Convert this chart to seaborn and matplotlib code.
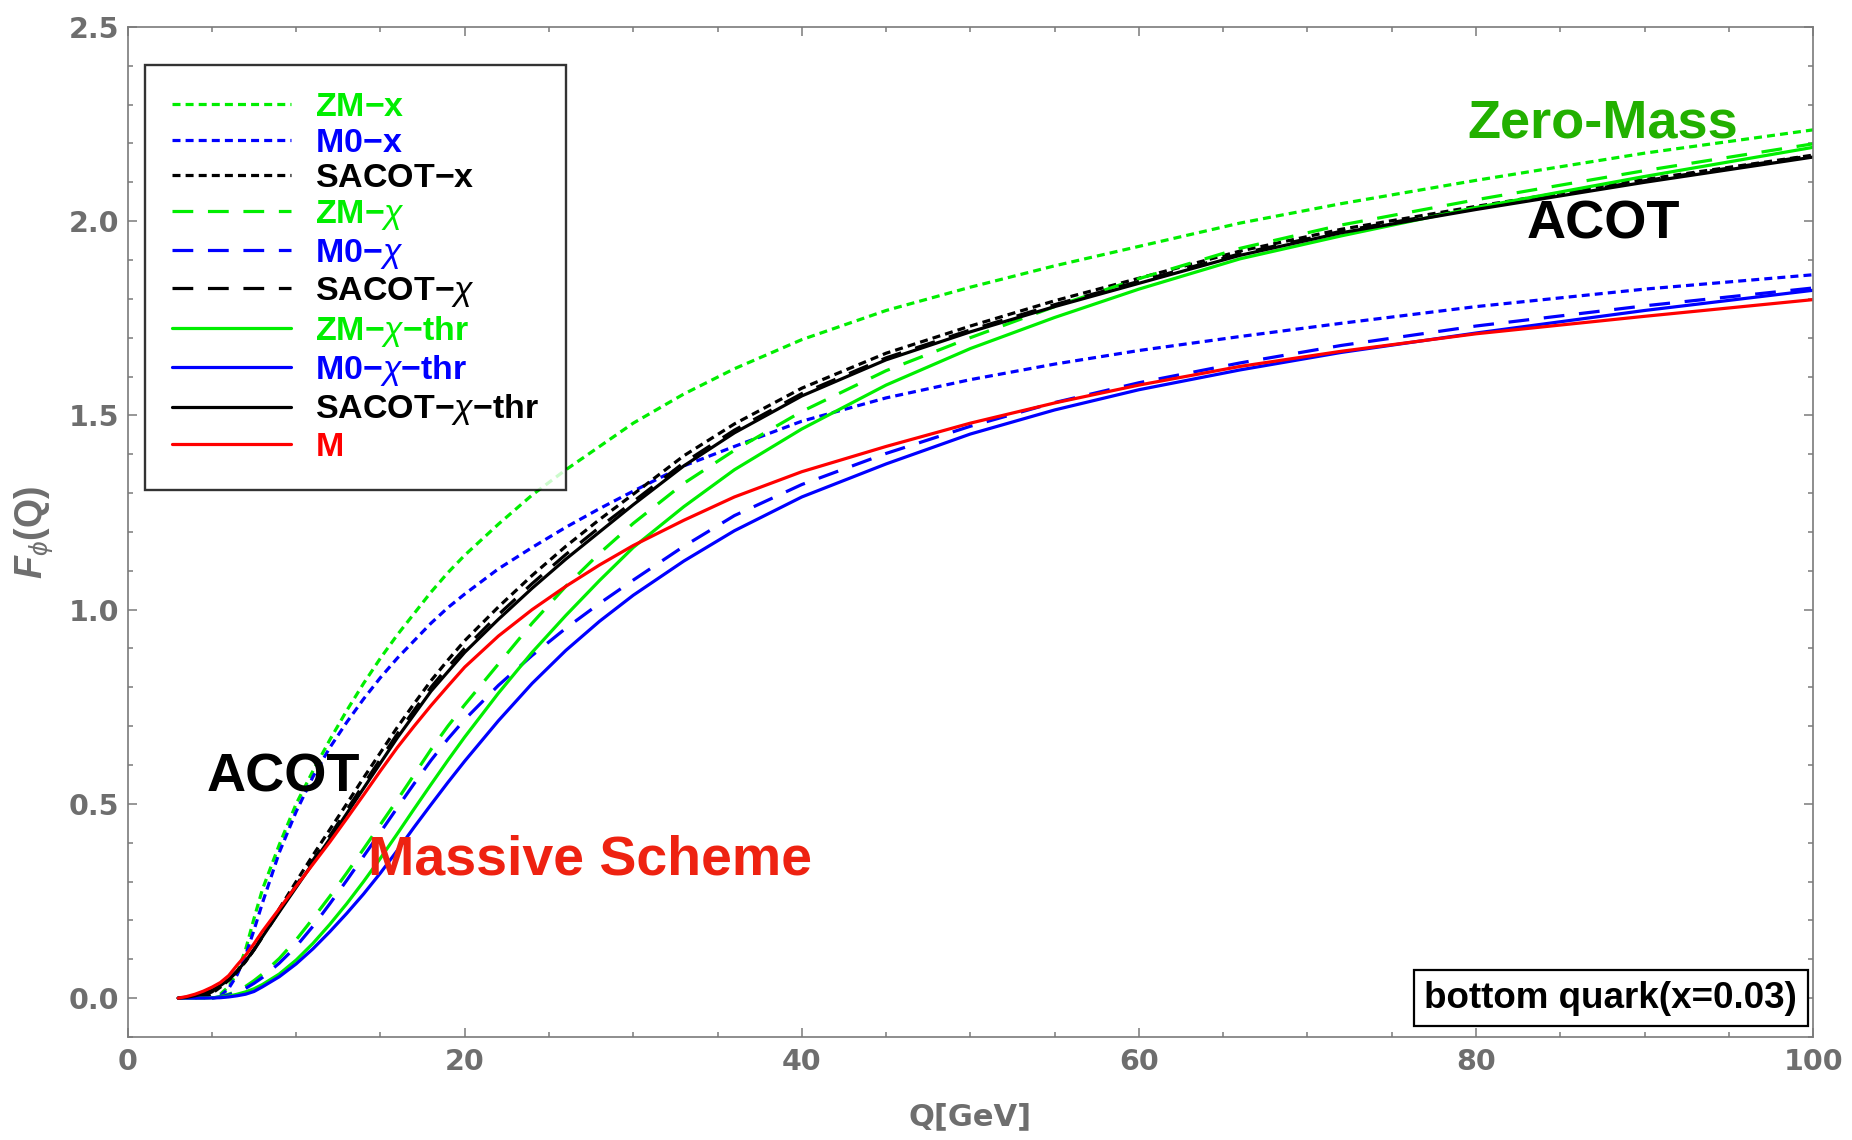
import numpy as np
import matplotlib
matplotlib.use("Agg")
import matplotlib.pyplot as plt
from matplotlib.ticker import MultipleLocator, FormatStrFormatter
import seaborn as sns

nan = np.nan

# Q grid in GeV
Q = [3, 3.5, 4, 4.5, 5, 5.5, 6, 6.5, 7, 7.5, 8, 9, 10, 11, 12, 13, 14, 15, 16, 17,
     18, 19, 20, 22, 24, 26, 28, 30, 33, 36, 40, 45, 50, 55, 60, 66, 72, 80, 90, 100]

# structure function F_phi(Q) for the bottom quark, x = 0.03
zm_x = [nan, nan, nan, nan, nan, 0.01, 0.03, 0.065, 0.125, 0.205, 0.28, 0.395, 0.5, 0.585, 0.665, 0.74,
        0.81, 0.875, 0.935, 0.99, 1.045, 1.095, 1.14, 1.22, 1.295, 1.36, 1.42, 1.48, 1.555, 1.62,
        1.695, 1.77, 1.83, 1.885, 1.935, 1.995, 2.045, 2.105, 2.175, 2.235]
m0_x = [nan, nan, nan, nan, nan, 0.005, 0.025, 0.06, 0.11, 0.175, 0.245, 0.375, 0.48, 0.57, 0.645, 0.71,
        0.77, 0.825, 0.875, 0.92, 0.965, 1.005, 1.04, 1.105, 1.16, 1.212, 1.26, 1.305, 1.37, 1.42,
        1.485, 1.545, 1.592, 1.632, 1.667, 1.703, 1.737, 1.78, 1.825, 1.862]
sacot_x = [nan, nan, nan, 0.0, 0.012, 0.028, 0.046, 0.068, 0.094, 0.125, 0.16, 0.23, 0.3, 0.368, 0.434, 0.5,
           0.567, 0.632, 0.697, 0.758, 0.817, 0.87, 0.92, 1.007, 1.088, 1.163, 1.232, 1.297, 1.396, 1.478,
           1.57, 1.66, 1.73, 1.795, 1.853, 1.923, 1.979, 2.038, 2.107, 2.17]
zm_chi = [nan, nan, nan, nan, 0.0, 0.004, 0.01, 0.018, 0.03, 0.045, 0.062, 0.102, 0.15, 0.205, 0.262, 0.322,
          0.384, 0.447, 0.51, 0.575, 0.64, 0.70, 0.755, 0.86, 0.965, 1.06, 1.145, 1.222, 1.325, 1.41,
          1.51, 1.615, 1.70, 1.78, 1.852, 1.93, 1.99, 2.055, 2.13, 2.199]
m0_chi = [nan, nan, nan, nan, 0.0, 0.003, 0.008, 0.015, 0.025, 0.038, 0.053, 0.09, 0.133, 0.185, 0.243, 0.303,
          0.365, 0.427, 0.49, 0.552, 0.612, 0.667, 0.717, 0.805, 0.882, 0.952, 1.016, 1.076, 1.163, 1.242,
          1.322, 1.402, 1.472, 1.533, 1.584, 1.635, 1.68, 1.73, 1.782, 1.828]
sacot_chi = [nan, nan, 0.0, 0.006, 0.016, 0.03, 0.047, 0.069, 0.094, 0.124, 0.157, 0.224, 0.29, 0.355, 0.418, 0.484,
             0.55, 0.615, 0.68, 0.741, 0.80, 0.852, 0.90, 0.987, 1.067, 1.142, 1.212, 1.278, 1.378, 1.462,
             1.556, 1.648, 1.72, 1.785, 1.845, 1.916, 1.974, 2.034, 2.104, 2.169]
zm_chi_thr = [0.0, 0.0, 0.0, 0.0, 0.001, 0.002, 0.005, 0.01, 0.016, 0.024, 0.035, 0.062, 0.098, 0.141, 0.19, 0.243,
              0.30, 0.36, 0.423, 0.487, 0.55, 0.612, 0.672, 0.785, 0.89, 0.985, 1.075, 1.16, 1.265, 1.36,
              1.465, 1.578, 1.672, 1.752, 1.825, 1.903, 1.962, 2.035, 2.115, 2.19]
m0_chi_thr = [0.0, 0.0, 0.0, 0.0, 0.0005, 0.001, 0.003, 0.006, 0.01, 0.017, 0.029, 0.055, 0.088, 0.127, 0.171, 0.218,
              0.268, 0.322, 0.38, 0.44, 0.498, 0.555, 0.61, 0.714, 0.81, 0.895, 0.97, 1.037, 1.125, 1.203,
              1.29, 1.375, 1.452, 1.514, 1.566, 1.617, 1.662, 1.712, 1.77, 1.822]
sacot_chi_thr = [0.0, 0.002, 0.006, 0.012, 0.02, 0.032, 0.048, 0.07, 0.095, 0.125, 0.158, 0.222, 0.285, 0.348, 0.41, 0.475,
                 0.54, 0.605, 0.67, 0.73, 0.79, 0.84, 0.89, 0.975, 1.055, 1.13, 1.2, 1.27, 1.37, 1.455,
                 1.55, 1.643, 1.715, 1.78, 1.84, 1.912, 1.97, 2.03, 2.10, 2.165]
massive = [0.0, 0.004, 0.01, 0.018, 0.028, 0.04, 0.058, 0.085, 0.11, 0.14, 0.172, 0.23, 0.288, 0.345, 0.402, 0.462,
           0.523, 0.585, 0.645, 0.70, 0.753, 0.803, 0.852, 0.932, 1.0, 1.06, 1.115, 1.165, 1.23, 1.29,
           1.355, 1.42, 1.48, 1.532, 1.578, 1.626, 1.665, 1.71, 1.755, 1.798]

# every label goes through mathtext so that all legend rows share one height
labels = ["ZM\u2212x$\\,$", "M0\u2212x$\\,$", "SACOT\u2212x$\\,$",
          "ZM\u2212$\\chi$", "M0\u2212$\\chi$", "SACOT\u2212$\\chi$",
          "ZM\u2212$\\chi$\u2212thr", "M0\u2212$\\chi$\u2212thr", "SACOT\u2212$\\chi$\u2212thr", "M$\\,$"]

GREEN, BLUE, BLACK, RED = "#00ee00", "#0000ff", "#000000", "#ff0000"
LW = 2.3
DOT = (0, (2.5, 1.6))
DASH = (0, (6.5, 4.6))
SOLID = "-"

series = [(zm_x, GREEN, DOT), (m0_x, BLUE, DOT), (sacot_x, BLACK, DOT),
          (zm_chi, GREEN, DASH), (m0_chi, BLUE, DASH), (sacot_chi, BLACK, DASH),
          (zm_chi_thr, GREEN, SOLID), (m0_chi_thr, BLUE, SOLID), (sacot_chi_thr, BLACK, SOLID),
          (massive, RED, SOLID)]

sns.set_theme(style="ticks")
plt.rcParams.update({
    "font.family": ["Liberation Sans", "DejaVu Sans"],
    "mathtext.fontset": "custom",
    "mathtext.rm": "Liberation Sans",
    "mathtext.it": "Liberation Sans:italic",
    "mathtext.bf": "Liberation Sans:bold",
    "mathtext.bfit": "Liberation Sans:italic:bold",
})

fig = plt.figure(figsize=(18.52, 11.40), dpi=100)
ax = fig.add_axes([0.0689, 0.0904, 0.9101, 0.886])

for vals, col, ls in series:
    sns.lineplot(x=np.array(Q, dtype=float), y=np.array(vals, dtype=float), ax=ax,
                 color=col, linewidth=LW, linestyle=ls, estimator=None, sort=False)

ax.set_xlim(0, 100)
ax.set_ylim(-0.1, 2.5)

# frame and ticks
GRAY = "#7a7a7a"
for sp in ax.spines.values():
    sp.set_visible(True)
    sp.set_color(GRAY)
    sp.set_linewidth(1.2)
ax.xaxis.set_major_locator(MultipleLocator(20))
ax.xaxis.set_minor_locator(MultipleLocator(5))
ax.yaxis.set_major_locator(MultipleLocator(0.5))
ax.yaxis.set_minor_locator(MultipleLocator(0.1))
ax.yaxis.set_major_formatter(FormatStrFormatter("%.1f"))
ax.tick_params(which="both", direction="in", top=True, right=True, color=GRAY, width=1.1)
ax.tick_params(which="major", length=6.5)
ax.tick_params(which="minor", length=3.8)
ax.tick_params(axis="x", which="major", pad=8)
ax.tick_params(axis="y", which="major", pad=6)
for t in ax.get_xticklabels() + ax.get_yticklabels():
    t.set_fontfamily("DejaVu Sans")
    t.set_fontweight("bold")
    t.set_fontsize(20.5)
    t.set_color("#6e6e6e")

ax.set_xlabel("Q[GeV]", fontsize=22, fontweight="bold", color="#6e6e6e",
              fontfamily="DejaVu Sans", labelpad=19)
ax.set_ylabel("$\\mathbfit{F}_{\\phi}$(Q)", fontsize=27, fontweight="bold", color="#6e6e6e",
              labelpad=10)

# legend
handles = ax.get_lines()[:len(series)]
leg = ax.legend(handles, labels, loc="upper left", bbox_to_anchor=(0.0103, 0.9624),
                borderaxespad=0, frameon=True, fancybox=False, handlelength=3.5,
                handletextpad=0.7, labelspacing=0.13, borderpad=0.8,
                prop={"family": "Liberation Sans", "weight": "bold", "size": 24.5})
leg.get_frame().set_edgecolor("black")
leg.get_frame().set_linewidth(1.7)
text_cols = [GREEN, BLUE, BLACK] * 3 + [RED]
for t, c in zip(leg.get_texts(), text_cols):
    t.set_color(c)

# scheme annotations
ax.text(87.5, 2.251, "Zero-Mass", color="#22b000", fontsize=39, fontweight="bold",
        ha="center", va="center")
ax.text(87.55, 1.992, "ACOT", color="black", fontsize=39, fontweight="bold",
        ha="center", va="center")
ax.text(9.24, 0.569, "ACOT", color="black", fontsize=39, fontweight="bold",
        ha="center", va="center")
ax.text(27.44, 0.355, "Massive Scheme", color="#ee2211", fontsize=40, fontweight="bold",
        ha="center", va="center")

ax.text(88.0, 0.0, "bottom quark(x=0.03)", color="black", fontsize=26.5, fontweight="bold",
        ha="center", va="center",
        bbox=dict(boxstyle="square,pad=0.28", facecolor="white", edgecolor="black", linewidth=1.6))

fig.savefig("out.png", dpi=100, facecolor="white")
